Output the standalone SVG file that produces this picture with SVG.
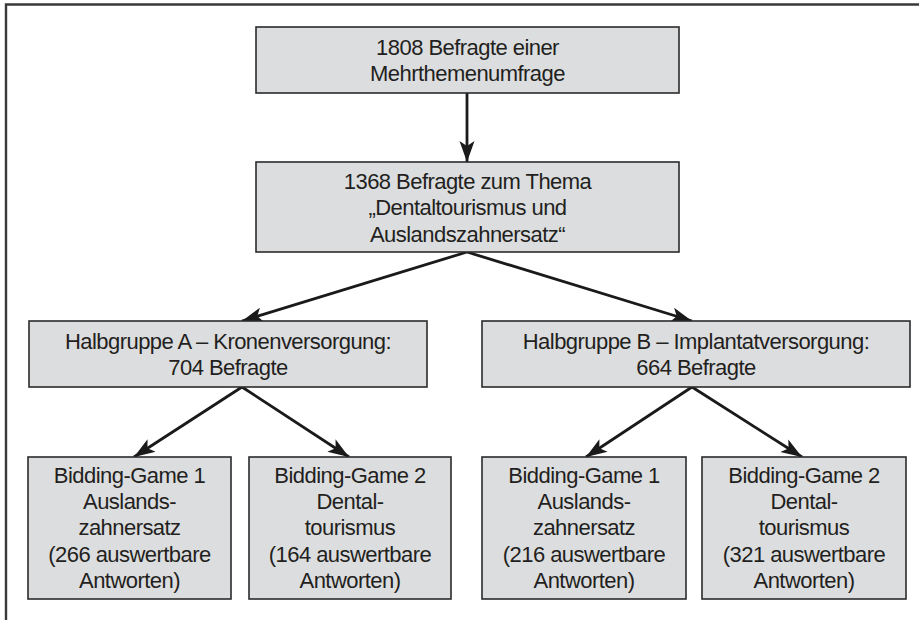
<svg xmlns="http://www.w3.org/2000/svg" width="919" height="620" viewBox="0 0 919 620">
<defs>
<style>
.box{fill:#dcdddf;stroke:#2b2b2b;stroke-width:1.6}
.t{font-family:"Liberation Sans",Arial,sans-serif;font-size:22px;letter-spacing:-0.55px;fill:#231f20;text-anchor:middle;dominant-baseline:central}
.c{stroke:#1a1a1a;stroke-width:2.8;fill:none;marker-end:url(#ah)}
.frame{stroke:#3a3a3a;stroke-width:2.4;fill:none}
</style>
<marker id="ah" markerUnits="userSpaceOnUse" markerWidth="22" markerHeight="18" viewBox="0 0 22 18" refX="21" refY="9" orient="auto">
<path d="M0,1.5 L21,9 L0,16.5 L5,9 z" fill="#1a1a1a"/>
</marker>
</defs>
<rect width="919" height="620" fill="#ffffff"/>
<path class="frame" d="M6,620 V4.5 H919"/>
<g id="connectors">
<line class="c" x1="467" y1="93" x2="467" y2="162"/>
<line class="c" x1="467" y1="252" x2="242" y2="321"/>
<line class="c" x1="467" y1="252" x2="692" y2="321"/>
<line class="c" x1="242" y1="387" x2="134" y2="457"/>
<line class="c" x1="242" y1="387" x2="349" y2="457"/>
<line class="c" x1="692" y1="387" x2="586" y2="457"/>
<line class="c" x1="692" y1="387" x2="802" y2="457"/>
</g>
<g id="n1">
<rect class="box" x="256" y="27" width="423" height="66"/>
<text class="t" x="467.5" y="47">1808 Befragte einer</text>
<text class="t" x="467.5" y="73">Mehrthemenumfrage</text>
</g>
<g id="n2">
<rect class="box" x="256" y="162" width="423" height="90"/>
<text class="t" x="467.5" y="181">1368 Befragte zum Thema</text>
<text class="t" x="467.5" y="207">„Dentaltourismus und</text>
<text class="t" x="467.5" y="234">Auslandszahnersatz“</text>
</g>
<g id="nA">
<rect class="box" x="29" y="321" width="398" height="66"/>
<text class="t" x="228" y="341">Halbgruppe A – Kronenversorgung:</text>
<text class="t" x="228" y="367">704 Befragte</text>
</g>
<g id="nB">
<rect class="box" x="482" y="321" width="428" height="66"/>
<text class="t" x="696" y="341">Halbgruppe B – Implantatversorgung:</text>
<text class="t" x="696" y="367">664 Befragte</text>
</g>
<g id="nA1">
<rect class="box" x="28" y="457" width="203" height="142"/>
<text class="t" x="129.5" y="475">Bidding-Game 1</text>
<text class="t" x="129.5" y="501">Auslands-</text>
<text class="t" x="129.5" y="527">zahnersatz</text>
<text class="t" x="129.5" y="554">(266 auswertbare</text>
<text class="t" x="129.5" y="580">Antworten)</text>
</g>
<g id="nA2">
<rect class="box" x="249" y="457" width="202" height="142"/>
<text class="t" x="350" y="475">Bidding-Game 2</text>
<text class="t" x="350" y="501">Dental-</text>
<text class="t" x="350" y="527">tourismus</text>
<text class="t" x="350" y="554">(164 auswertbare</text>
<text class="t" x="350" y="580">Antworten)</text>
</g>
<g id="nB1">
<rect class="box" x="482" y="457" width="204" height="142"/>
<text class="t" x="584" y="475">Bidding-Game 1</text>
<text class="t" x="584" y="501">Auslands-</text>
<text class="t" x="584" y="527">zahnersatz</text>
<text class="t" x="584" y="554">(216 auswertbare</text>
<text class="t" x="584" y="580">Antworten)</text>
</g>
<g id="nB2">
<rect class="box" x="702" y="457" width="204" height="142"/>
<text class="t" x="804" y="475">Bidding-Game 2</text>
<text class="t" x="804" y="501">Dental-</text>
<text class="t" x="804" y="527">tourismus</text>
<text class="t" x="804" y="554">(321 auswertbare</text>
<text class="t" x="804" y="580">Antworten)</text>
</g>
</svg>
